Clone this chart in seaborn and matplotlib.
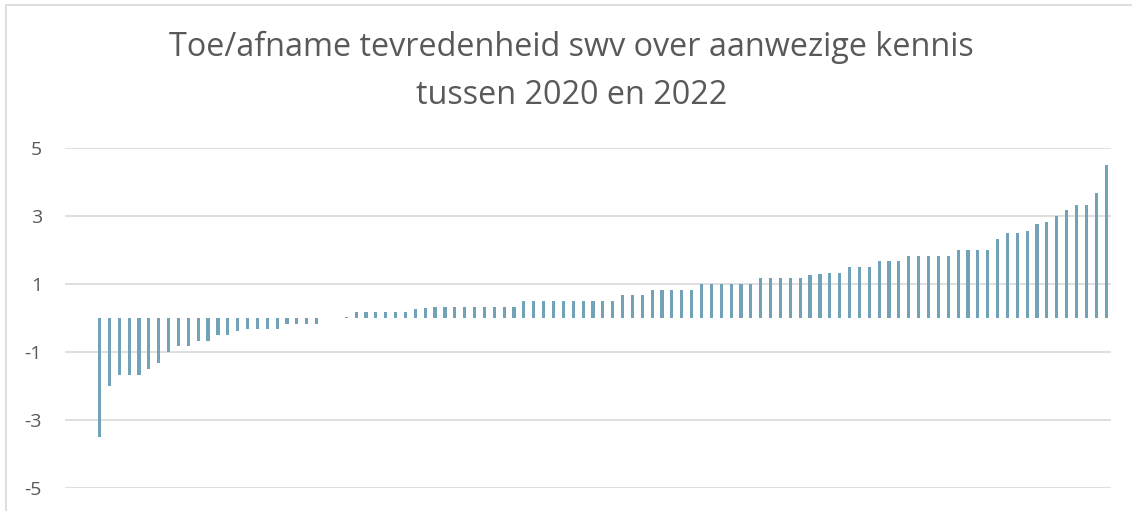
import seaborn as sns
import matplotlib.pyplot as plt
import pandas as pd
from matplotlib.lines import Line2D

# -----------------------------
# Data (sorted ascending)
# -----------------------------
delta = [
    -3.5, -2.0, -1.67, -1.67, -1.67, -1.5, -1.33, -1.0, -0.83, -0.83,
    -0.67, -0.67, -0.5, -0.5, -0.38, -0.33, -0.33, -0.33, -0.33, -0.17,
    -0.17, -0.17, -0.17, 0.0, 0.0, 0.02, 0.17, 0.17, 0.17, 0.17,
    0.17, 0.17, 0.25, 0.29, 0.33, 0.33, 0.33, 0.33, 0.33, 0.33,
    0.33, 0.33, 0.33, 0.5, 0.5, 0.5, 0.5, 0.5, 0.5, 0.5,
    0.5, 0.5, 0.5, 0.67, 0.67, 0.67, 0.83, 0.83, 0.83, 0.83,
    0.83, 1.0, 1.0, 1.0, 1.0, 1.0, 1.0, 1.17, 1.17, 1.17,
    1.17, 1.17, 1.25, 1.29, 1.33, 1.33, 1.5, 1.5, 1.5, 1.67,
    1.67, 1.67, 1.83, 1.83, 1.83, 1.83, 1.83, 2.0, 2.0, 2.0,
    2.0, 2.33, 2.5, 2.5, 2.55, 2.75, 2.83, 3.0, 3.17, 3.33,
    3.33, 3.67, 4.5,
]
nr = list(range(1, len(delta) + 1))
yticks = [5, 3, 1, -1, -3, -5]
title = "Toe/afname tevredenheid swv over aanwezige kennis\ntussen 2020 en 2022"

df = pd.DataFrame({"nr": nr, "delta": delta})

sns.set_style("white")
plt.rcParams["font.family"] = ["Open Sans", "DejaVu Sans"]

fig = plt.figure(figsize=(11.32, 5.11), dpi=100)
ax = fig.add_axes([0.0574, 0.045, 0.9241, 0.6654])

sns.barplot(data=df, x="nr", y="delta", color="#72a2b7", width=0.32,
            saturation=1, linewidth=0, ax=ax)

# 3 empty slots on the left like the original
ax.set_xlim(-3.5, len(delta) - 0.5)
ax.set_ylim(-5, 5)
ax.set_yticks(yticks)
ax.set_yticklabels([str(t) for t in yticks])
ax.set_xticks([])
ax.set_xlabel("")
ax.set_ylabel("")

ax.yaxis.grid(True, color="#d9d9d9", linewidth=1.2)
ax.set_axisbelow(True)
for s in ax.spines.values():
    s.set_visible(False)
ax.tick_params(axis="y", length=0, pad=16.5, labelsize=14, labelcolor="#595959")

fig.text(0.505, 0.94, title, ha="center", va="top", fontsize=23.3,
         color="#595959", linespacing=1.6)

# chart frame (only left/top visible in the crop)
fig.add_artist(Line2D([6 / 1132, 6 / 1132], [0, 1 - 5 / 511], color="#d9d9d9", lw=1.2))
fig.add_artist(Line2D([6 / 1132, 1], [1 - 5 / 511, 1 - 5 / 511], color="#d9d9d9", lw=1.2))

fig.savefig("out.png", dpi=100)
